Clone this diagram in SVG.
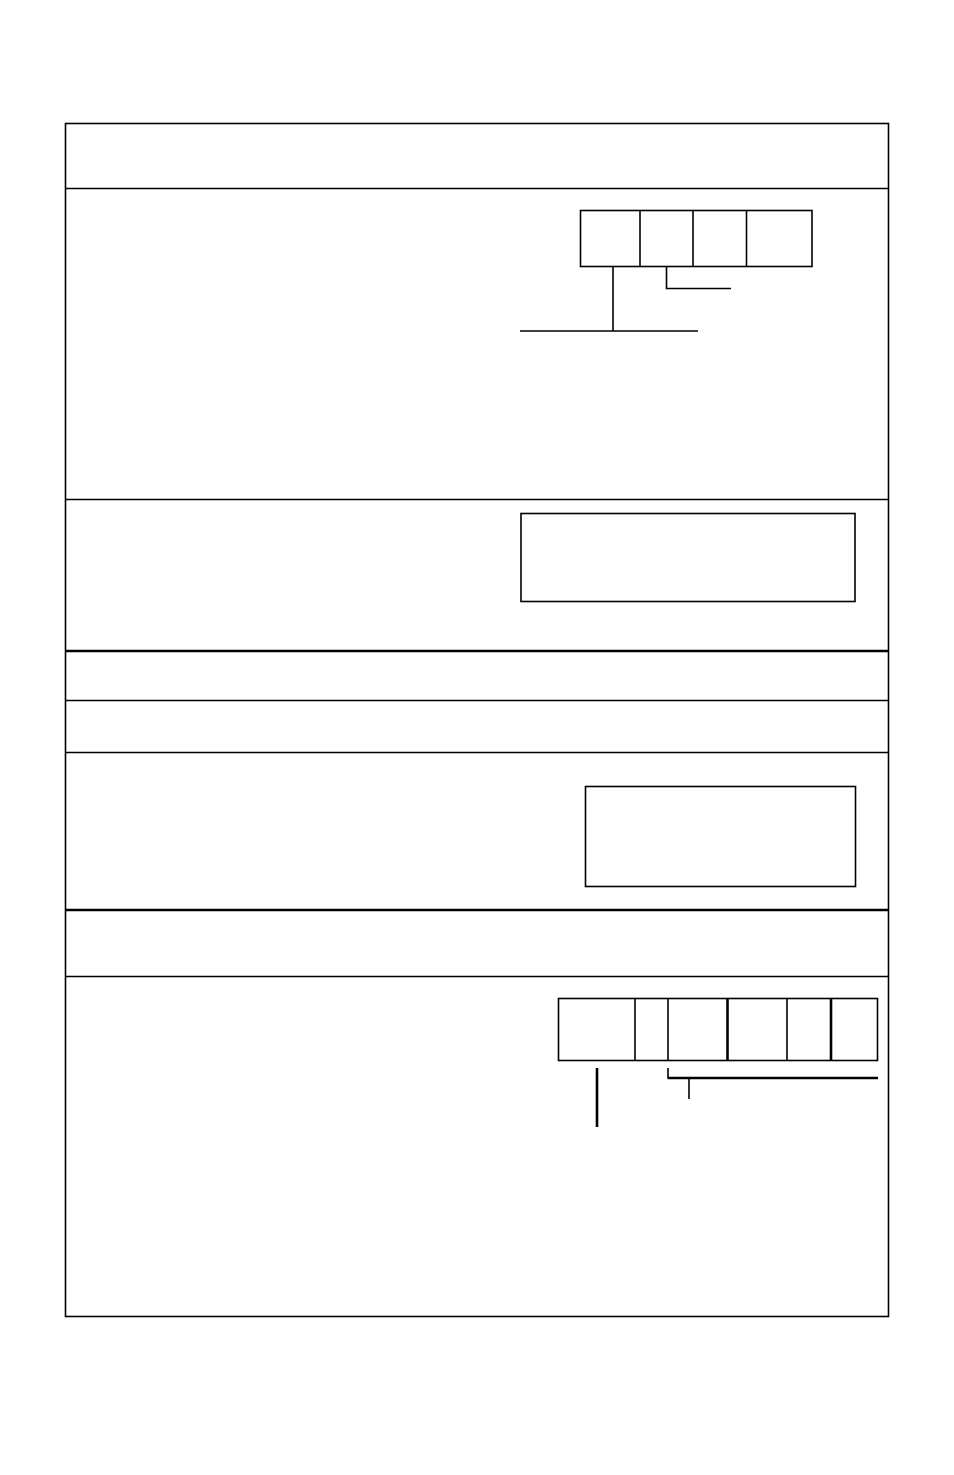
<svg xmlns="http://www.w3.org/2000/svg" width="954" height="1475" viewBox="0 0 954 1475">
<style>
.l{stroke:#000;stroke-width:1.6;fill:none}
.t{stroke:#000;stroke-width:2.6;fill:none}
</style>
<rect width="954" height="1475" fill="#fff"/>
<g id="frame">
<rect class="l" x="65.5" y="123.5" width="823" height="1193"/>
<line class="l" x1="65" y1="188.5" x2="888" y2="188.5"/>
<line class="l" x1="65" y1="499.5" x2="888" y2="499.5"/>
<line class="t" x1="65" y1="651" x2="888" y2="651"/>
<line class="l" x1="65" y1="700.5" x2="888" y2="700.5"/>
<line class="l" x1="65" y1="752.5" x2="888" y2="752.5"/>
<line class="t" x1="65" y1="910" x2="888" y2="910"/>
<line class="l" x1="65" y1="976.5" x2="888" y2="976.5"/>
</g>
<g id="node-fields-top">
<rect class="l" x="580.5" y="210.5" width="231.5" height="56"/>
<line class="l" x1="640" y1="210" x2="640" y2="266"/>
<line class="l" x1="693" y1="210" x2="693" y2="266"/>
<line class="l" x1="746.5" y1="210" x2="746.5" y2="266"/>
</g>
<g id="node-box-1">
<rect class="l" x="521" y="513.5" width="334" height="88"/>
</g>
<g id="node-box-2">
<rect class="l" x="585.5" y="786.5" width="270" height="100"/>
</g>
<g id="node-fields-bottom">
<rect class="l" x="558.5" y="998.5" width="319" height="62"/>
<line class="l" x1="635" y1="998" x2="635" y2="1060"/>
<line class="l" x1="668" y1="998" x2="668" y2="1060"/>
<line class="t" x1="727.5" y1="998" x2="727.5" y2="1060"/>
<line class="l" x1="787" y1="998" x2="787" y2="1060"/>
<line class="t" x1="831" y1="998" x2="831" y2="1060"/>
</g>
<g id="connectors">
<polyline class="l" points="613,266 613,331"/>
<line class="l" x1="520" y1="331" x2="698" y2="331"/>
<polyline class="l" points="666.5,266 666.5,288.5 731,288.5"/>
<line class="t" x1="597" y1="1068" x2="597" y2="1127"/>
<line class="l" x1="668" y1="1068" x2="668" y2="1078"/>
<line class="t" x1="667.5" y1="1078" x2="878" y2="1078"/>
<line class="l" x1="689" y1="1078" x2="689" y2="1099"/>
</g>
</svg>
